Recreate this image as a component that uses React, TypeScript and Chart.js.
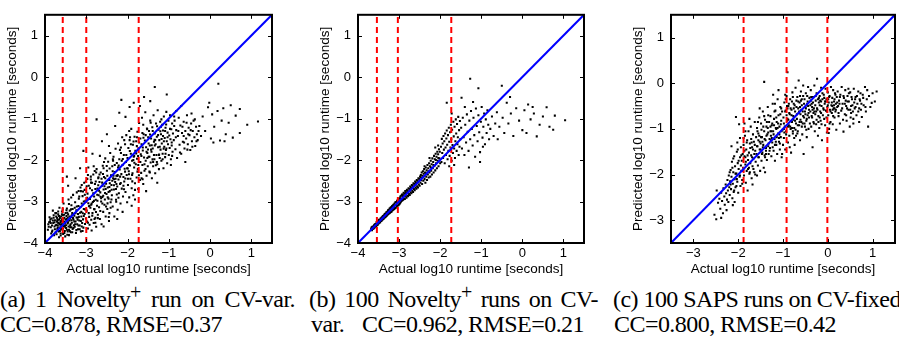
import React, { useEffect, useRef } from 'react';
import { Chart, registerables } from 'chart.js';
Chart.register(...registerables);

// ---------- data (x = actual log10 runtime, y = predicted), flat [x, y, x, y, ...] ----------
const ptsA: number[] = [
-3.92,-3.55,-3.88,-3.48,-3.86,-3.62,-3.84,-3.41,-3.82,-3.70,-3.80,-3.52,-3.79,-3.33,-3.77,-3.60,-3.76,-3.45,-3.74,-3.74,-3.73,-3.28,-3.72,-3.56,-3.71,-3.39,-3.70,-3.66,-3.70,-3.47,-3.93,-3.68,-3.89,-3.38,-3.85,-3.77,-3.81,-3.22,-3.78,-3.81,
-3.69,-3.58,-3.68,-3.31,-3.67,-3.72,-3.66,-3.44,-3.65,-3.15,-3.64,-3.63,-3.63,-3.50,-3.62,-3.82,-3.61,-3.36,-3.60,-3.55,-3.59,-3.24,-3.58,-3.68,-3.57,-3.46,-3.56,-3.78,-3.55,-3.05,-3.54,-3.59,-3.53,-3.39,-3.52,-3.71,-3.51,-3.52,-3.50,-3.28,-3.68,-3.52,-3.64,-3.40,-3.61,-3.66,-3.57,-3.19,-3.54,-3.49,-3.66,-3.86,-3.59,-3.43,-3.52,-3.61,
-3.49,-3.64,-3.48,-3.42,-3.47,-3.17,-3.46,-3.80,-3.45,-3.53,-3.44,-3.31,-3.43,-2.95,-3.42,-3.68,-3.41,-3.46,-3.40,-3.22,-3.39,-3.58,-3.38,-3.74,-3.37,-3.37,-3.36,-3.09,-3.35,-3.51,-3.34,-3.28,-3.33,-3.66,-3.32,-2.84,-3.31,-3.44,-3.30,-3.57,-3.48,-3.35,-3.45,-3.72,-3.42,-3.06,-3.39,-3.41,-3.36,-3.62,-3.33,-3.18,-3.44,-2.62,-3.47,-2.40,
-3.29,-3.34,-3.28,-3.61,-3.27,-3.02,-3.26,-3.48,-3.25,-3.76,-3.24,-3.21,-3.23,-2.78,-3.22,-3.55,-3.21,-3.39,-3.20,-3.67,-3.19,-3.11,-3.18,-2.93,-3.17,-3.46,-3.16,-3.58,-3.15,-3.27,-3.14,-2.66,-3.13,-3.72,-3.12,-3.36,-3.11,-3.05,-3.10,-3.52,-3.09,-2.87,-3.08,-3.43,-3.07,-3.63,-3.06,-3.18,-3.05,-2.55,-3.04,-3.30,-3.03,-3.54,-3.02,-2.98,-3.01,-3.41,-3.26,-2.44,-3.15,-2.20,-3.07,-1.78,-3.20,-3.30,-3.11,-3.60,-3.04,-2.72,
-2.99,-3.22,-2.98,-3.48,-2.97,-2.81,-2.96,-3.65,-2.95,-3.04,-2.94,-2.62,-2.93,-3.37,-2.92,-3.56,-2.91,-2.94,-2.90,-3.15,-2.89,-2.47,-2.88,-3.44,-2.87,-3.70,-2.86,-2.73,-2.85,-3.28,-2.84,-3.01,-2.83,-2.35,-2.82,-3.52,-2.81,-2.88,-2.80,-3.19,-2.79,-2.58,-2.78,-3.39,-2.77,-2.96,-2.76,-3.61,-2.75,-2.22,-2.74,-3.10,-2.73,-2.69,-2.72,-3.32,-2.71,-2.44,-2.70,-2.85,-2.75,-1.02,-2.85,-1.85,-2.95,-2.18,-2.78,-3.51,-2.88,-3.08,
-2.69,-3.14,-2.68,-2.53,-2.67,-3.42,-2.66,-2.78,-2.65,-2.30,-2.64,-3.00,-2.63,-3.55,-2.62,-2.62,-2.61,-2.89,-2.60,-2.14,-2.59,-3.25,-2.58,-2.71,-2.57,-2.41,-2.56,-3.08,-2.55,-2.95,-2.54,-1.96,-2.53,-3.36,-2.52,-2.57,-2.51,-2.82,-2.50,-2.26,-2.49,-3.18,-2.48,-2.66,-2.47,-2.04,-2.46,-2.93,-2.45,-3.47,-2.44,-2.48,-2.43,-2.75,-2.42,-1.83,-2.41,-3.02,-2.40,-2.37,-2.62,-1.55,-2.50,-1.38,-2.45,-1.66,-2.58,-3.60,-2.44,-3.28,
-2.39,-2.60,-2.38,-2.85,-2.37,-2.15,-2.36,-3.12,-2.35,-2.44,-2.34,-1.92,-2.33,-2.71,-2.32,-3.36,-2.31,-2.29,-2.30,-2.53,-2.29,-1.73,-2.28,-2.96,-2.27,-2.38,-2.26,-2.07,-2.25,-2.64,-2.24,-3.20,-2.23,-1.60,-2.22,-2.47,-2.21,-2.80,-2.20,-1.98,-2.19,-2.23,-2.18,-2.58,-2.17,-3.05,-2.16,-1.83,-2.15,-2.34,-2.14,-2.69,-2.13,-1.45,-2.12,-2.12,-2.11,-2.88,-2.10,-2.41,-2.30,-1.18,-2.20,-0.86,-2.15,-0.55,-2.25,-3.42,-2.12,-3.25,
-2.09,-1.88,-2.08,-2.52,-2.07,-2.21,-2.06,-1.62,-2.05,-2.77,-2.04,-2.05,-2.03,-1.40,-2.02,-2.36,-2.01,-3.02,-2.00,-1.95,-1.99,-2.60,-1.98,-1.71,-1.97,-2.27,-1.96,-2.90,-1.95,-1.52,-1.94,-2.13,-1.93,-2.45,-1.92,-1.85,-1.91,-1.25,-1.90,-2.68,-1.89,-2.02,-1.88,-2.32,-1.87,-1.63,-1.86,-2.85,-1.85,-1.92,-1.84,-2.18,-1.83,-1.44,-1.82,-2.56,-1.81,-1.78,-1.80,-2.10,-2.05,-0.96,-1.95,-0.72,-1.85,-0.62,-1.90,-3.10,-1.82,-2.95,
-1.79,-1.55,-1.78,-2.42,-1.77,-1.97,-1.76,-1.32,-1.75,-2.22,-1.74,-2.70,-1.73,-1.71,-1.72,-1.11,-1.71,-2.05,-1.70,-2.48,-1.69,-1.48,-1.68,-1.86,-1.67,-2.31,-1.66,-1.62,-1.65,-0.98,-1.64,-2.12,-1.63,-1.77,-1.62,-2.58,-1.61,-1.38,-1.60,-1.94,-1.59,-2.26,-1.58,-1.53,-1.57,-0.85,-1.56,-2.02,-1.55,-1.69,-1.54,-2.38,-1.53,-1.24,-1.52,-1.83,-1.51,-2.15,-1.50,-1.45,-1.70,-0.70,-1.60,-0.48,-1.55,-2.75,
-1.49,-1.92,-1.48,-1.30,-1.47,-2.28,-1.46,-1.65,-1.45,-1.05,-1.44,-2.06,-1.43,-1.48,-1.42,-1.80,-1.41,-2.44,-1.40,-1.21,-1.39,-1.72,-1.38,-2.15,-1.37,-0.92,-1.36,-1.56,-1.35,-1.98,-1.34,-1.36,-1.33,-2.32,-1.32,-1.62,-1.31,-1.12,-1.30,-1.88,-1.29,-1.44,-1.28,-2.10,-1.27,-0.80,-1.26,-1.69,-1.25,-1.27,-1.24,-2.22,-1.23,-1.52,-1.22,-1.95,-1.21,-1.08,-1.20,-1.75,-1.34,-0.24,-1.45,-0.58,-1.28,-2.55,
-1.19,-1.38,-1.18,-2.02,-1.17,-1.60,-1.16,-1.15,-1.15,-1.85,-1.14,-1.29,-1.13,-2.20,-1.12,-0.95,-1.11,-1.68,-1.10,-1.47,-1.09,-1.93,-1.08,-1.22,-1.07,-1.76,-1.06,-0.84,-1.05,-1.55,-1.04,-2.08,-1.03,-1.34,-1.02,-1.62,-1.01,-1.05,-1.00,-1.88,-0.99,-1.41,-0.98,-1.71,-0.97,-0.92,-0.96,-1.50,-0.95,-1.98,-0.94,-1.26,-0.93,-1.58,-0.92,-1.12,-0.91,-1.80,-0.90,-1.36,-1.05,-0.42,-0.95,-2.12,
-0.88,-1.52,-0.86,-1.05,-0.84,-1.74,-0.82,-1.28,-0.80,-1.95,-0.78,-1.42,-0.76,-0.98,-0.74,-1.63,-0.72,-1.17,-0.70,-1.85,-0.68,-1.35,-0.66,-1.56,-0.64,-1.08,-0.62,-1.72,-0.60,-1.30,-0.58,-1.48,-0.56,-0.92,-0.54,-1.62,-0.52,-1.22,-0.50,-1.40,-0.48,-1.76,-0.46,-1.12,-0.44,-1.55,-0.42,-1.30,-0.40,-1.05,-0.38,-1.45,-0.36,-1.66,-0.34,-1.20,-0.32,-1.38,-0.30,-1.52,-0.82,-0.82,-0.70,-0.70,-0.60,-2.05,
-0.26,-1.18,-0.22,-1.42,-0.18,-0.95,-0.12,-1.30,-0.05,-0.73,0.02,-1.48,0.05,-0.90,0.10,-1.20,0.18,-0.82,0.20,-0.16,0.24,-1.53,0.28,-1.05,0.32,-0.75,0.38,-1.38,0.45,-1.10,0.50,-0.68,0.55,-1.46,0.62,-0.93,0.72,-0.77,0.72,-1.35,0.90,-1.15,1.16,-1.07,-0.02,-0.62,0.35,-1.55,0.08,-1.58,
];

const ptsA2: number[] = [
-3.83,-3.58,-3.71,-3.49,-3.64,-3.71,-3.57,-3.33,-3.49,-3.57,-3.42,-3.81,-3.36,-3.45,-3.87,-3.43,-3.76,-3.67,-3.68,-3.24,-3.61,-3.47,-3.53,-3.76,-3.46,-3.27,-3.39,-3.62,-3.91,-3.61,-3.79,-3.39,-3.72,-3.79,-3.63,-3.56,-3.55,-3.41,-3.47,-3.68,-3.41,-3.36,-3.34,-3.74,-3.86,-3.52,-3.74,-3.57,-3.66,-3.35,-3.58,-3.51,-3.51,-3.84,-3.44,-3.50,-3.37,-3.19,-3.31,-3.64,-3.81,-3.46,-3.69,-3.63,-3.62,-3.77,-3.54,-3.32,-3.46,-3.46,-3.38,-3.55,-3.29,-3.48,-3.24,-3.69,-3.18,-3.37,-3.23,-3.12,-3.77,-3.50,-3.73,-3.36,-3.65,-3.54,-3.56,-3.65,-3.50,-3.44,-3.43,-3.60,-3.35,-3.33,-3.27,-3.55,-3.21,-3.44,-3.16,-3.67,-3.12,-3.25,-3.83,-3.73,-3.59,-3.31,-3.52,-3.58,-3.48,-3.21,-3.40,-3.71,-3.32,-3.40,-3.26,-3.28,-3.19,-3.58,-3.13,-3.47,-3.09,-3.71,-3.06,-3.35,-3.70,-3.43,-3.60,-3.60,-3.45,-3.39,-3.28,-3.15,-3.90,-3.50,-3.75,-3.28,
-3.17,-2.88,-3.14,-3.13,-3.08,-2.76,-3.03,-3.19,-2.98,-2.91,-2.94,-3.28,-2.91,-2.68,-2.87,-3.05,-2.83,-2.80,-2.80,-3.42,-2.77,-2.52,-2.73,-2.98,-2.69,-2.74,-2.66,-3.23,-2.63,-2.45,-2.59,-2.86,-2.56,-2.63,-2.52,-3.12,-2.49,-2.38,-2.46,-2.77,-2.43,-2.56,-2.39,-2.95,-2.36,-2.27,-2.33,-2.61,-2.29,-2.45,-2.26,-2.83,-2.23,-2.18,-3.11,-2.60,-3.01,-2.52,-2.96,-3.51,-2.89,-2.40,-2.81,-3.18,-2.76,-2.30,-2.71,-2.61,-2.64,-2.92,-2.58,-2.20,-2.53,-2.70,-2.47,-2.48,-2.41,-3.15,-2.37,-2.50,-2.31,-2.12,-2.27,-2.58,-2.22,-2.91,-3.06,-3.00,-2.92,-3.10,-2.78,-2.70,-2.68,-2.35,-2.61,-3.05,-2.54,-2.44,-2.44,-2.65,-2.34,-2.38,-2.24,-2.36,-3.13,-2.75,-2.99,-2.63,-2.86,-2.55,-2.72,-3.40,-2.57,-2.05,-2.48,-2.90,-2.35,-2.02,-2.28,-2.70,-2.96,-2.36,-2.82,-2.15,-2.67,-1.90,
-2.18,-2.40,-2.14,-2.02,-2.10,-2.62,-2.06,-2.28,-2.03,-1.88,-1.99,-2.45,-1.96,-2.12,-1.92,-1.62,-1.89,-2.36,-1.86,-2.00,-1.82,-2.72,-1.79,-1.84,-1.76,-2.28,-1.72,-1.58,-1.69,-2.05,-1.66,-2.44,-1.63,-1.70,-1.59,-2.10,-1.56,-1.40,-1.52,-1.95,-1.49,-1.60,-1.46,-2.30,-1.43,-1.75,-1.39,-1.30,-1.36,-1.88,-1.33,-1.52,-1.29,-2.05,-1.26,-1.40,-1.22,-1.68,-1.19,-1.20,-1.15,-1.98,-1.12,-1.55,-1.09,-1.30,-1.06,-1.72,-1.03,-1.45,-2.16,-1.70,-2.01,-2.20,-1.94,-1.45,-1.84,-1.90,-1.74,-2.12,-1.64,-1.35,-1.54,-1.80,-1.44,-1.10,-1.34,-1.65,-1.24,-1.88,-1.14,-1.42,-2.08,-1.52,-1.77,-1.45,-1.47,-1.92,-1.18,-1.02,-1.96,-1.30,-1.62,-1.15,-1.38,-2.05,-1.08,-1.85,
-0.97,-1.25,-0.93,-1.65,-0.87,-1.18,-0.83,-1.45,-0.77,-1.30,-0.73,-1.82,-0.67,-1.20,-0.63,-1.58,-0.57,-1.10,-0.53,-1.38,-0.47,-1.28,-0.43,-1.68,-0.37,-1.02,-0.33,-1.55,-0.87,-0.95,-0.64,-1.42,-0.45,-0.88,-0.92,-1.90,-0.55,-1.75,-0.28,-1.30,
];

const ptsA3: number[] = [
-2.935,-3.115,-2.885,-2.545,-2.815,-2.985,-2.765,-3.255,-2.705,-2.415,-2.655,-2.885,-2.595,-2.335,-2.545,-2.795,-2.485,-3.045,-2.435,-2.205,-2.385,-2.715,-2.325,-2.465,-2.275,-3.005,-2.215,-2.135,-2.165,-2.555,-2.115,-1.975,-2.055,-2.445,-1.995,-2.205,-1.945,-1.785,-1.885,-2.515,-1.835,-2.065,-1.775,-1.665,-1.725,-2.365,-1.665,-1.905,-1.615,-1.465,-1.565,-2.215,-1.505,-1.745,-1.455,-1.385,-1.395,-1.985,-1.345,-1.515,-1.285,-1.185,-1.235,-1.865,-1.175,-1.495,-1.125,-1.725,-1.065,-1.145,
-3.365,-2.905,-3.235,-3.385,-3.185,-2.745,-3.085,-3.285,-3.035,-2.835,-2.975,-2.455,-2.855,-3.345,-2.795,-2.265,-2.735,-2.835,-2.615,-2.545,-2.505,-2.145,-2.455,-3.375,-2.355,-1.985,-2.245,-2.385,-2.185,-1.755,-2.085,-2.705,-1.965,-2.345,-1.855,-1.555,-1.745,-1.905,-1.635,-2.465,-1.525,-1.255,-1.415,-1.645,-1.315,-2.125,-1.205,-1.305,
];

const ptsB: number[] = [
-3.68,-3.66,-3.67,-3.63,-3.66,-3.69,-3.65,-3.61,-3.64,-3.66,-3.63,-3.60,-3.62,-3.65,-3.61,-3.57,-3.60,-3.63,-3.59,-3.55,-3.58,-3.61,-3.57,-3.54,-3.56,-3.59,-3.55,-3.50,-3.54,-3.57,-3.53,-3.49,-3.52,-3.56,-3.51,-3.47,-3.50,-3.53,-3.49,-3.44,-3.48,-3.51,-3.47,-3.45,-3.46,-3.50,-3.45,-3.41,-3.44,-3.47,-3.43,-3.39,-3.42,-3.46,-3.41,-3.37,-3.40,-3.43,-3.39,-3.35,-3.38,-3.42,-3.37,-3.33,-3.36,-3.39,-3.35,-3.30,-3.34,-3.38,-3.33,-3.29,-3.32,-3.36,-3.31,-3.26,-3.30,-3.34,-3.29,-3.25,-3.28,-3.32,-3.27,-3.21,-3.26,-3.30,-3.25,-3.20,-3.24,-3.28,-3.23,-3.17,-3.22,-3.27,-3.21,-3.15,-3.20,-3.25,-3.19,-3.13,-3.18,-3.24,-3.17,-3.11,-3.16,-3.21,-3.15,-3.09,-3.14,-3.20,-3.13,-3.07,-3.12,-3.18,-3.11,-3.05,-3.10,-3.16,-3.09,-3.02,-3.08,-3.15,-3.07,-3.01,-3.06,-3.12,-3.05,-2.98,-3.04,-3.10,-3.03,-2.96,-3.02,-3.09,-3.01,-2.95,-3.00,-3.07,
-3.655,-3.625,-3.585,-3.575,-3.515,-3.525,-3.445,-3.425,-3.385,-3.395,-3.325,-3.315,-3.255,-3.245,-3.195,-3.175,-3.135,-3.125,-3.075,-3.085,-3.015,-3.025,
-2.99,-2.92,-2.98,-3.05,-2.97,-2.88,-2.96,-3.02,-2.95,-2.86,-2.94,-2.99,-2.93,-2.83,-2.92,-2.97,-2.91,-2.84,-2.90,-2.96,-2.89,-2.79,-2.88,-2.93,-2.87,-2.81,-2.86,-2.94,-2.85,-2.75,-2.84,-2.88,-2.83,-2.78,-2.82,-2.91,-2.81,-2.72,-2.80,-2.86,-2.79,-2.74,-2.78,-2.87,-2.77,-2.68,-2.76,-2.82,-2.75,-2.70,-2.74,-2.84,-2.73,-2.64,-2.72,-2.78,-2.71,-2.66,-2.70,-2.80,-2.69,-2.60,-2.68,-2.74,-2.67,-2.62,-2.66,-2.77,-2.65,-2.56,-2.64,-2.70,-2.63,-2.58,-2.62,-2.73,-2.61,-2.52,-2.60,-2.66,-2.59,-2.54,-2.58,-2.69,-2.57,-2.48,-2.56,-2.63,-2.55,-2.50,-2.54,-2.66,-2.53,-2.44,-2.52,-2.59,-2.51,-2.46,-2.50,-2.62,
-2.965,-2.925,-2.905,-2.875,-2.845,-2.815,-2.785,-2.765,-2.725,-2.705,-2.665,-2.645,-2.605,-2.585,-2.545,-2.535,
-2.49,-2.40,-2.48,-2.55,-2.47,-2.36,-2.46,-2.49,-2.45,-2.30,-2.44,-2.58,-2.43,-2.38,-2.42,-2.27,-2.41,-2.50,-2.40,-2.33,-2.39,-2.22,-2.38,-2.46,-2.37,-2.30,-2.36,-2.55,-2.35,-2.18,-2.34,-2.40,-2.33,-2.25,-2.32,-2.48,-2.31,-2.12,-2.30,-2.35,-2.29,-2.20,-2.28,-2.42,-2.27,-2.08,-2.26,-2.30,-2.25,-2.15,-2.24,-2.40,-2.23,-2.02,-2.22,-2.26,-2.21,-2.10,-2.20,-2.35,-2.19,-1.96,-2.18,-2.20,-2.17,-2.05,-2.16,-2.30,-2.15,-1.90,-2.14,-2.14,-2.13,-1.98,-2.12,-2.25,-2.11,-1.85,-2.10,-2.08,-2.09,-1.92,-2.08,-2.20,-2.07,-1.80,-2.06,-2.02,-2.05,-1.86,-2.04,-2.15,-2.03,-1.74,-2.02,-1.96,-2.01,-1.80,-2.00,-2.08,
-2.465,-2.42,-2.405,-2.40,-2.345,-2.32,-2.285,-2.27,-2.225,-2.18,-2.165,-2.12,-2.105,-2.00,-2.045,-1.95,-2.38,-2.15,-2.26,-1.95,-2.12,-1.70,-2.05,-1.65,
-1.98,-1.68,-1.97,-2.05,-1.96,-1.49,-1.95,-1.83,-1.94,-1.60,-1.93,-1.95,-1.92,-1.42,-1.91,-1.75,-1.90,-1.55,-1.89,-2.08,-1.88,-1.36,-1.87,-1.70,-1.86,-1.88,-1.85,-1.48,-1.84,-1.29,-1.83,-1.63,-1.82,-1.98,-1.81,-1.40,-1.80,-1.78,-1.79,-1.22,-1.78,-1.56,-1.77,-1.90,-1.76,-1.33,-1.75,-1.70,-1.74,-1.15,-1.73,-1.50,-1.72,-2.02,-1.71,-1.27,-1.70,-1.64,-1.69,-1.83,-1.68,-1.08,-1.67,-1.43,-1.66,-1.72,-1.65,-1.20,-1.64,-1.95,-1.63,-1.55,-1.62,-1.02,-1.61,-1.36,-1.60,-1.78,-1.59,-1.13,-1.58,-1.62,-1.57,-1.45,-1.56,-0.96,-1.55,-1.88,-1.54,-1.28,-1.53,-1.68,-1.52,-1.06,-1.51,-1.50,-1.84,-0.62,-1.72,-0.88,-1.78,-2.15,-1.66,-2.12,
-1.49,-1.22,-1.47,-1.72,-1.45,-0.98,-1.43,-1.45,-1.41,-1.88,-1.39,-1.15,-1.37,-1.58,-1.35,-0.90,-1.33,-1.32,-1.31,-1.78,-1.29,-1.05,-1.27,-1.50,-1.25,-0.82,-1.23,-1.25,-1.21,-1.65,-1.19,-0.98,-1.17,-1.40,-1.15,-1.92,-1.13,-0.76,-1.11,-1.18,-1.09,-1.55,-1.07,-0.92,-1.05,-1.33,-1.03,-1.81,-1.01,-1.08,-0.99,-0.72,-0.97,-1.46,-0.95,-1.20,-0.93,-0.88,-0.91,-1.62,-0.89,-1.02,-0.87,-1.35,-0.85,-0.80,-0.83,-1.15,-0.81,-1.50,-1.27,-0.04,-1.07,-0.27,-1.48,-0.50,-1.20,-0.60,-1.40,-0.72,-1.03,-2.05,-1.30,-2.18,-0.96,-1.68,
-0.78,-1.25,-0.74,-0.95,-0.70,-1.42,-0.66,-1.12,-0.62,-0.85,-0.60,-1.50,-0.56,-1.20,-0.50,-0.21,-0.48,-0.98,-0.44,-1.35,-0.38,-0.62,-0.34,-1.12,-0.28,-0.88,-0.22,-1.42,-0.15,-0.75,-0.08,-1.05,0.00,-1.28,0.05,-0.80,0.10,-1.35,0.14,-0.66,0.20,-1.02,0.28,-0.88,0.35,-1.43,0.42,-1.15,0.50,-0.95,0.59,-0.73,0.66,-1.20,0.75,-1.27,0.79,-0.93,1.04,-1.04,-0.30,-0.48,0.25,-0.72,
];

const ptsC: number[] = [
-2.53,-2.88,-2.49,-2.98,-2.45,-2.62,-2.42,-2.53,-2.40,-2.75,-2.38,-2.40,-2.36,-2.58,-2.34,-2.85,-2.33,-2.30,-2.31,-2.48,-2.30,-2.66,-2.28,-2.22,-2.27,-2.41,-2.26,-2.78,-2.25,-2.55,-2.24,-2.12,-2.23,-2.35,-2.22,-2.60,-2.21,-2.02,-2.20,-2.28,-2.12,-2.67,-2.48,-2.35,-2.38,-2.95,
-2.19,-2.45,-2.18,-2.15,-2.17,-1.90,-2.16,-2.32,-2.15,-2.05,-2.14,-1.72,-2.13,-2.52,-2.12,-2.20,-2.11,-1.95,-2.10,-2.38,-2.09,-1.60,-2.08,-2.10,-2.07,-1.82,-2.06,-2.28,-2.05,-0.74,-2.04,-1.98,-2.03,-1.50,-2.02,-2.16,-2.01,-1.75,-2.00,-2.40,-1.99,-1.88,-1.98,-0.90,-1.97,-2.05,-1.96,-1.62,-1.95,-2.25,-1.94,-1.40,-1.93,-1.92,-1.92,-1.70,-1.91,-2.12,-1.90,-1.55,-2.15,-1.38,-2.02,-1.30,-1.96,-1.20,-2.08,-2.60,
-1.89,-1.85,-1.88,-1.35,-1.87,-2.02,-1.86,-1.60,-1.85,-1.15,-1.84,-1.78,-1.83,-2.18,-1.82,-1.45,-1.81,-1.92,-1.80,-1.25,-1.79,-2.35,-1.78,-1.68,-1.77,-1.05,-1.76,-1.52,-1.75,-1.98,-1.74,-1.32,-1.73,-1.75,-1.72,-0.95,-1.71,-1.58,-1.70,-2.08,-1.69,-1.40,-1.68,-1.82,-1.67,-1.12,-1.66,-1.65,-1.65,-1.28,-1.64,-1.95,-1.63,-0.85,-1.62,-1.48,-1.61,-1.72,-1.60,-1.18,-1.86,-0.88,-1.75,-0.78,-1.68,-2.22,-1.84,-1.05,-1.62,-2.00,-1.78,-1.88,-1.70,-1.30,
-1.59,-1.55,-1.58,-0.98,-1.57,-1.38,-1.56,-1.80,-1.55,-1.10,-1.54,-1.62,-1.53,-0.75,-1.52,-1.28,-1.51,-1.92,-1.50,-1.45,-1.49,-0.88,-1.48,-1.70,-1.47,-1.18,-1.46,-1.52,-1.45,-0.62,-1.44,-1.35,-1.43,-1.85,-1.42,-1.05,-1.41,-1.58,-1.40,-0.80,-1.39,-1.25,-1.38,-1.48,-1.37,-0.95,-1.36,-1.68,-1.35,-1.12,-1.34,-0.52,-1.33,-1.38,-1.32,-1.55,-1.31,-0.85,-1.30,-1.22,-1.42,0.03,-1.38,-1.55,-1.55,-1.25,-1.48,-1.02,-1.45,-1.40,-1.52,-0.55,-1.33,-0.70,-1.58,-2.02,-1.40,-1.95,
-1.29,-1.42,-1.28,-0.72,-1.27,-1.15,-1.26,-1.60,-1.25,-0.92,-1.24,-1.30,-1.23,-0.45,-1.22,-1.05,-1.21,-1.48,-1.20,-0.78,-1.19,-1.22,-1.18,-1.70,-1.17,-0.60,-1.16,-0.98,-1.15,-1.35,-1.14,-0.85,-1.13,-1.55,-1.12,-0.35,-1.11,-1.10,-1.10,-0.70,-1.09,-1.28,-1.08,-0.95,-1.07,-1.45,-1.06,-0.52,-1.05,-1.18,-1.04,-0.82,-1.03,-1.62,-1.02,-0.62,-1.01,-1.02,-1.00,-1.35,-1.22,-0.25,-1.10,-0.15,-1.15,-1.00,-1.25,-1.20,-1.05,-0.90,-1.02,-1.55,-1.18,-0.45,-1.08,-1.12,-1.28,-1.05,
-0.99,-0.75,-0.98,-1.20,-0.97,-0.42,-0.96,-0.95,-0.95,-1.45,-0.94,-0.60,-0.93,-1.05,-0.92,-0.28,-0.91,-0.82,-0.90,0.24,-0.89,-1.30,-0.88,-0.50,-0.87,-0.92,-0.86,-1.15,-0.85,-0.68,-0.84,-0.35,-0.83,-1.00,-0.82,-1.52,-0.81,-0.58,-0.80,-0.85,-0.79,-0.20,-0.78,-1.10,-0.77,-0.72,-0.76,-0.45,-0.75,-0.98,-0.74,-1.35,-0.73,-0.62,-0.72,-0.10,-0.71,-0.88,-0.70,-0.52,-0.95,-0.25,-0.85,-1.40,-0.78,-0.30,-0.92,-0.70,-0.88,-0.80,-0.75,-1.20,-0.80,-0.40,-0.72,-1.02,-0.98,-1.00,-0.90,-0.55,
-0.69,-0.78,-0.68,-0.30,-0.67,-1.05,-0.66,-0.55,-0.65,0.06,-0.64,-0.92,-0.63,-0.42,-0.62,-1.25,-0.61,-0.68,-0.60,-0.18,-0.59,-0.85,-0.58,-0.48,-0.57,-1.12,-0.56,-0.62,-0.55,-0.05,-0.54,-1.55,-0.53,-0.75,-0.52,-0.35,-0.51,-0.95,-0.50,-0.52,-0.49,-0.22,-0.48,-0.82,-0.47,-1.18,-0.46,-0.45,-0.45,-0.70,-0.44,-0.08,-0.43,-1.00,-0.42,-0.58,-0.41,-0.32,-0.40,-0.88,-0.65,-0.65,-0.58,-0.95,-0.50,-0.68,-0.45,-0.40,-0.62,-0.52,-0.55,-0.28,-0.48,-1.02,-0.68,-1.10,-0.42,-0.75,-0.60,-0.38,
-0.39,-0.62,-0.38,-0.15,-0.37,-0.95,-0.36,-0.45,-0.35,-0.75,-0.34,-1.40,-0.33,-0.30,-0.32,-0.85,-0.31,-0.55,-0.30,-0.05,-0.29,-1.05,-0.28,-0.68,-0.27,-0.38,-0.26,-0.90,-0.25,-0.22,-0.24,0.10,-0.23,-0.58,-0.22,-1.15,-0.21,-0.72,-0.20,-0.42,-0.19,-0.98,-0.18,-0.28,-0.17,-0.62,-0.16,-0.82,-0.15,-0.10,-0.14,-0.50,-0.13,-1.25,-0.12,-0.35,-0.11,-0.70,-0.10,-0.55,-0.35,-0.52,-0.28,-0.48,-0.22,-0.35,-0.18,-0.75,-0.32,-0.65,-0.25,-0.80,-0.15,-0.40,-0.38,-0.38,
-0.09,-0.25,-0.08,-0.78,-0.07,-0.45,-0.06,-0.92,-0.05,-0.12,-0.04,-0.60,-0.03,-0.35,-0.02,-1.08,-0.01,-0.52,0.00,-0.20,0.01,-0.70,0.02,-0.42,0.03,-1.00,0.04,-0.28,0.05,-0.58,0.06,-0.85,0.07,-0.08,0.08,-0.48,0.09,-0.65,0.10,-0.32,0.11,-0.90,0.12,-0.15,0.13,-0.55,0.14,-0.40,0.15,-0.75,0.16,-0.22,0.17,-0.62,0.18,-0.45,0.19,-1.02,0.20,-0.30,0.02,-1.09,-0.05,-0.40,0.10,-0.50,0.15,-0.55,
0.21,-0.52,0.22,-0.18,0.24,-0.72,0.25,-0.38,0.27,-0.88,0.28,-0.25,0.30,-0.60,0.31,-0.08,0.33,-0.45,0.35,-1.06,0.36,-0.32,0.38,-0.68,0.39,-0.15,0.41,-0.50,0.42,-0.82,0.44,-0.28,0.46,-0.58,0.47,-0.40,0.49,-0.95,0.50,-0.20,0.52,-0.65,0.54,-0.35,0.55,-0.48,0.57,-0.78,0.58,-0.12,0.60,-0.55,0.26,-0.45,0.40,-0.38,0.52,-0.50,
0.62,-0.30,0.64,-0.70,0.66,-0.45,0.68,-0.18,0.70,-0.85,0.72,-0.38,0.74,-0.58,0.76,-0.74,0.78,-0.25,0.80,-0.48,0.83,-0.08,0.85,-0.62,0.87,-0.35,0.90,-0.95,0.92,-0.28,0.95,-0.52,0.98,-0.43,1.00,-0.22,1.05,-0.40,1.09,-0.18,0.70,-0.55,0.88,-0.15,
];

const ptsC2: number[] = [
-2.17,-2.22,-2.13,-1.85,-2.09,-2.35,-2.06,-1.98,-2.03,-2.10,-1.99,-1.70,-1.96,-2.02,-1.93,-1.58,-1.89,-1.92,-1.86,-1.48,-1.83,-1.72,-1.79,-1.58,-1.76,-1.85,-1.73,-1.42,-1.69,-1.62,-1.66,-1.88,-1.63,-1.35,-2.11,-1.65,-2.01,-1.45,-1.91,-2.20,-1.81,-1.30,-1.71,-1.22,-1.64,-1.55,-2.19,-1.95,-1.94,-1.80,-1.84,-1.62,-1.74,-1.95,-1.67,-1.45,-2.04,-2.25,-1.88,-1.20,
-1.58,-1.38,-1.55,-1.62,-1.53,-1.15,-1.50,-1.32,-1.47,-1.55,-1.44,-0.95,-1.41,-1.22,-1.38,-1.42,-1.36,-0.85,-1.33,-1.08,-1.30,-1.48,-1.27,-1.25,-1.24,-0.88,-1.21,-1.12,-1.18,-1.35,-1.15,-0.75,-1.12,-0.98,-1.09,-1.20,-1.06,-0.68,-1.03,-1.05,-1.57,-1.05,-1.52,-1.45,-1.46,-1.28,-1.42,-0.72,-1.37,-1.15,-1.32,-1.32,-1.28,-0.95,-1.23,-1.40,-1.19,-0.62,-1.14,-1.18,-1.11,-0.88,-1.07,-1.32,-1.04,-0.55,-1.49,-1.18,-1.34,-0.98,-1.26,-1.05,-1.16,-1.28,-1.56,-0.85,-1.40,-1.62,-1.20,-0.92,
-0.98,-0.88,-0.95,-0.62,-0.93,-1.12,-0.90,-0.78,-0.87,-0.45,-0.84,-0.95,-0.81,-0.70,-0.78,-1.05,-0.76,-0.55,-0.73,-0.82,-0.70,-0.38,-0.67,-0.92,-0.64,-0.62,-0.61,-0.80,-0.58,-0.35,-0.55,-0.72,-0.52,-0.88,-0.49,-0.55,-0.46,-0.28,-0.43,-0.65,-0.97,-1.08,-0.91,-0.50,-0.86,-0.65,-0.80,-0.98,-0.74,-0.48,-0.69,-0.68,-0.63,-0.85,-0.59,-0.58,-0.53,-0.45,-0.47,-0.78,-0.94,-0.35,-0.83,-0.55,-0.71,-1.15,-0.62,-0.28,-0.51,-0.62,-0.44,-0.50,-0.89,-0.95,-0.77,-0.80,-0.66,-0.40,-0.56,-0.88,
-0.39,-0.48,-0.36,-0.72,-0.33,-0.42,-0.30,-0.62,-0.27,-0.28,-0.24,-0.55,-0.21,-0.85,-0.18,-0.48,-0.15,-0.65,-0.12,-0.22,-0.09,-0.58,-0.06,-0.40,-0.03,-0.75,0.00,-0.48,0.03,-0.30,0.06,-0.62,0.09,-0.42,0.12,-0.72,0.15,-0.35,0.18,-0.58,0.21,-0.42,0.24,-0.65,0.27,-0.30,-0.37,-0.30,-0.31,-0.88,-0.26,-0.62,-0.20,-0.32,-0.14,-0.90,-0.08,-0.32,-0.02,-0.62,0.04,-0.88,0.11,-0.58,0.17,-0.25,0.23,-0.50,-0.34,-0.58,-0.17,-0.38,0.01,-0.35,0.14,-0.48,
0.32,-0.55,0.35,-0.28,0.38,-0.45,0.41,-0.70,0.44,-0.40,0.47,-0.22,0.50,-0.58,0.53,-0.30,0.56,-0.62,0.59,-0.42,0.62,-0.52,0.65,-0.28,0.68,-0.62,0.71,-0.35,0.75,-0.45,0.79,-0.32,0.84,-0.52,0.34,-0.80,0.43,-0.55,0.51,-0.75,0.61,-0.35,0.73,-0.22,0.46,-0.12,0.57,-0.88,
];

// vertical cutoff lines (log10 seconds)
const cutoffsA = [-3.57, -3.0, -1.73];
const cutoffsB = [-3.54, -3.03, -1.73];
const cutoffsC = [-1.88, -0.92, -0.01];

const ticksAB = [-4, -3, -2, -1, 0, 1];
const ticksC = [-3, -2, -1, 0, 1];

const xTitle = 'Actual log10 runtime [seconds]';
const yTitle = 'Predicted log10 runtime [seconds]';

// ---------- helpers ----------
const toXY = (...flats: number[][]) => {
  const out: { x: number; y: number }[] = [];
  flats.forEach((flat) => {
    for (let i = 0; i + 1 < flat.length; i += 2) out.push({ x: flat[i], y: flat[i + 1] });
  });
  return out;
};
const fmt = (v: number | string) => {
  const n = Number(v);
  return n < 0 ? '\u2212' + Math.abs(n) : String(n);
};

const frame = {
  id: 'frameTicks',
  afterDatasetsDraw(chart: any) {
    const { ctx, chartArea: a, scales } = chart;
    const xs = scales.x, ys = scales.y;
    ctx.save();
    ctx.strokeStyle = '#000';
    ctx.lineWidth = 1;
    ctx.beginPath();
    xs.ticks.forEach((t: any) => {
      const p = Math.round(xs.getPixelForValue(t.value)) + 0.5;
      ctx.moveTo(p, a.bottom); ctx.lineTo(p, a.bottom - 4);
      ctx.moveTo(p, a.top); ctx.lineTo(p, a.top + 4);
    });
    ys.ticks.forEach((t: any) => {
      const p = Math.round(ys.getPixelForValue(t.value)) + 0.5;
      ctx.moveTo(a.left, p); ctx.lineTo(a.left + 4, p);
      ctx.moveTo(a.right, p); ctx.lineTo(a.right - 4, p);
    });
    ctx.stroke();
    ctx.lineWidth = 2;
    ctx.strokeRect(a.left, a.top, a.right - a.left, a.bottom - a.top);
    ctx.restore();
  },
};

type PanelProps = {
  pts: number[][];
  lo: number;
  hi: number;
  ticks: number[];
  cutoffs: number[];
  left: number;
  padLeft: number;
  padRight: number;
};

const FONT = 'Liberation Sans, Arial, sans-serif';

function Panel({ pts, lo, hi, ticks, cutoffs, left, padLeft, padRight }: PanelProps) {
  const ref = useRef<HTMLCanvasElement>(null);
  useEffect(() => {
    if (!ref.current) return;
    const datasets: any[] = [
      {
        data: [{ x: lo, y: lo }, { x: hi, y: hi }],
        showLine: true,
        borderColor: '#0000ff',
        borderWidth: 2,
        pointRadius: 0,
        order: 0,
      },
      ...cutoffs.map((c) => ({
        data: [{ x: c, y: lo }, { x: c, y: hi }],
        showLine: true,
        borderColor: '#ff0000',
        borderWidth: 2,
        borderDash: [6, 4],
        pointRadius: 0,
        order: 1,
      })),
      {
        data: toXY(...pts),
        pointRadius: 1.45,
        pointBorderWidth: 0,
        pointBackgroundColor: '#000',
        pointStyle: 'rect',
        order: 2,
      },
    ];
    const axisTicks = (vals: number[]) => (s: any) => {
      s.ticks = vals.map((v) => ({ value: v }));
    };
    const chart = new Chart(ref.current, {
      type: 'scatter',
      data: { datasets },
      options: {
        responsive: false,
        animation: false,
        events: [],
        layout: { padding: { left: padLeft, right: padRight, top: 5, bottom: 0 } },
        plugins: { legend: { display: false }, tooltip: { enabled: false } },
        scales: {
          x: {
            type: 'linear',
            min: lo,
            max: hi,
            afterBuildTicks: axisTicks(ticks),
            afterFit: (s: any) => { s.height = 37; },
            grid: { display: false, drawTicks: false },
            border: { display: false },
            ticks: {
              color: '#000',
              font: { family: FONT, size: 13 },
              padding: 3,
              maxRotation: 0,
              autoSkip: false,
              callback: (v: any) => fmt(v),
            },
            title: {
              display: true,
              text: xTitle,
              color: '#000',
              font: { family: FONT, size: 13.5 },
              padding: { top: 0, bottom: 3 },
            },
          },
          y: {
            type: 'linear',
            min: lo,
            max: hi,
            afterBuildTicks: axisTicks(ticks),
            afterFit: (s: any) => { s.width = 45; },
            grid: { display: false, drawTicks: false },
            border: { display: false },
            ticks: {
              color: '#000',
              font: { family: FONT, size: 13 },
              padding: 7,
              autoSkip: false,
              callback: (v: any) => fmt(v),
            },
            title: {
              display: true,
              text: yTitle,
              color: '#000',
              font: { family: FONT, size: 13.5 },
              padding: { top: 4, bottom: 0 },
            },
          },
        },
      },
      plugins: [frame],
    } as any);
    return () => chart.destroy();
  }, []);
  return (
    <canvas
      ref={ref}
      width={299}
      height={280}
      style={{ position: 'absolute', left, top: 0, width: 299, height: 280 }}
    />
  );
}

const serif: React.CSSProperties = {
  position: 'absolute',
  fontFamily: '"Liberation Serif", "Times New Roman", serif',
  fontSize: 24,
  lineHeight: '24px',
  letterSpacing: '-0.55px',
  whiteSpace: 'nowrap',
  color: '#000',
};
const justified: React.CSSProperties = { textAlign: 'justify', textAlignLast: 'justify', whiteSpace: 'normal' };
const sup: React.CSSProperties = { fontSize: 20, lineHeight: 0, verticalAlign: '8px' };

export default function App() {
  useEffect(() => {
    document.body.style.margin = '0';
  }, []);
  return (
    <div style={{ position: 'absolute', left: 0, top: 0, width: 899, height: 344, overflow: 'hidden', background: '#fff' }}>
      <Panel pts={[ptsA, ptsA2, ptsA3]} lo={-4} hi={1.5} ticks={ticksAB} cutoffs={cutoffsA} left={0} padLeft={0} padRight={27} />
      <Panel pts={[ptsB]} lo={-4} hi={1.5} ticks={ticksAB} cutoffs={cutoffsB} left={300} padLeft={13} padRight={15} />
      <Panel pts={[ptsC, ptsC2]} lo={-3.5} hi={1.5} ticks={ticksC} cutoffs={cutoffsC} left={600} padLeft={26} padRight={2} />

      <div style={{ ...serif, ...justified, left: 0, top: 287, width: 295 }}>
        (a) 1 Novelty<span style={sup}>+</span> run on CV-var.
      </div>
      <div style={{ ...serif, left: 0, top: 312 }}>CC=0.878, RMSE=0.37</div>

      <div style={{ ...serif, ...justified, left: 309, top: 287, width: 289 }}>
        (b) 100 Novelty<span style={sup}>+</span> runs on CV-
      </div>
      <div style={{ ...serif, left: 311, top: 312 }}>var.</div>
      <div style={{ ...serif, left: 362, top: 312 }}>CC=0.962, RMSE=0.21</div>

      <div style={{ ...serif, left: 613, top: 287 }}>(c) 100 SAPS runs on CV-fixed</div>
      <div style={{ ...serif, left: 614, top: 312 }}>CC=0.800, RMSE=0.42</div>
    </div>
  );
}
